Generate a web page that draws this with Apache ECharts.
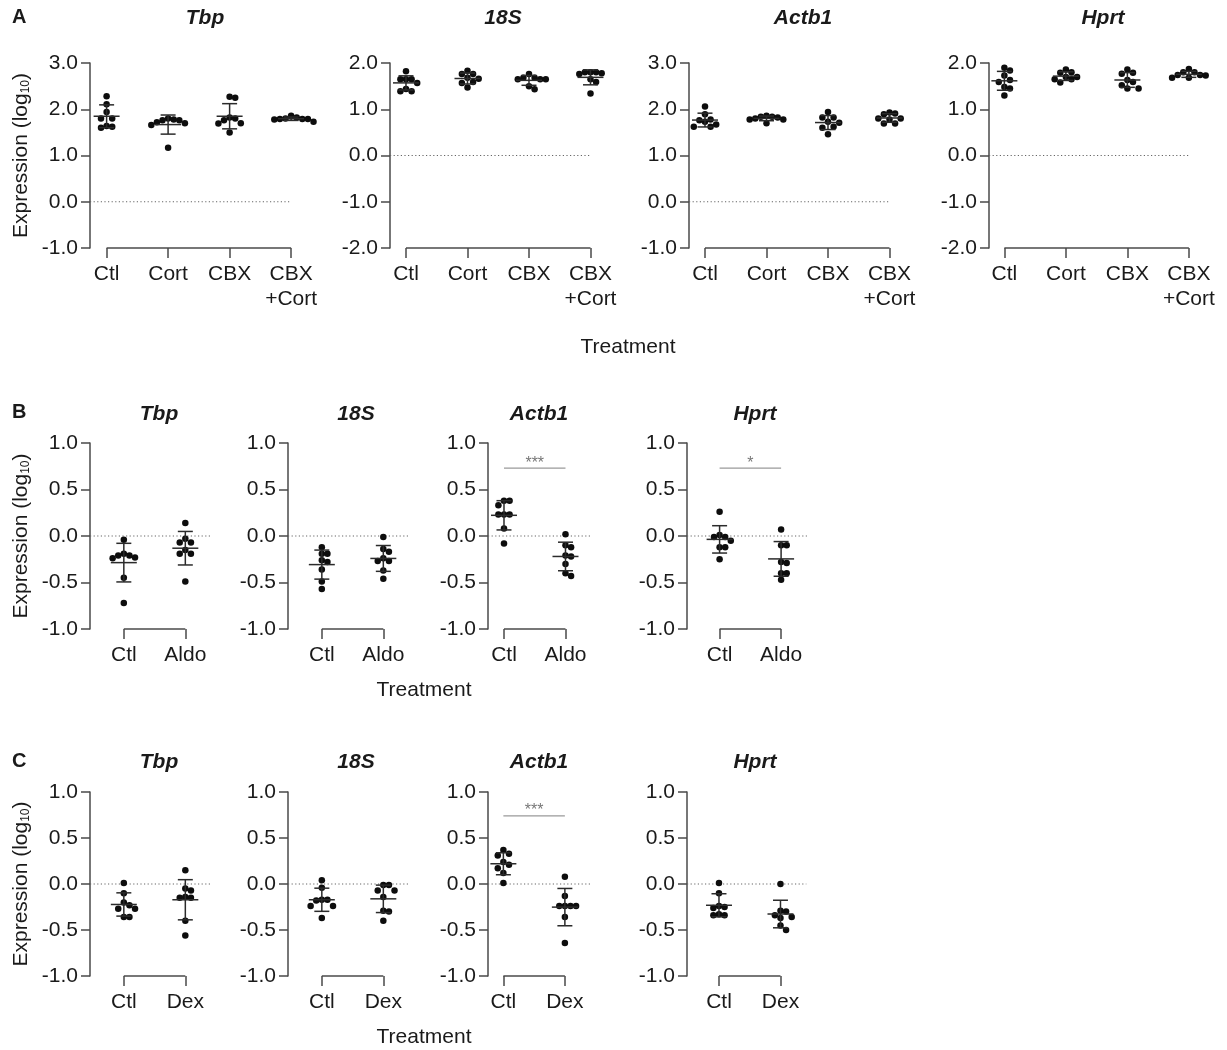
<!DOCTYPE html>
<html>
<head>
<meta charset="utf-8">
<script src="https://cdn.jsdelivr.net/npm/echarts@6/dist/echarts.min.js"></script>
<style>
  html, body { margin: 0; padding: 0; background: #fff; }
  #chart { width: 1227px; height: 1050px; }
</style>
</head>
<body>
<div id="chart"></div>
<script>
// ---- Treatment groups and genes ----
const catsA = ['Ctl', 'Cort', 'CBX', 'CBX\n+Cort'];
const catsB = ['Ctl', 'Aldo'];
const catsC = ['Ctl', 'Dex'];
const genes = ['Tbp', '18S', 'Actb1', 'Hprt'];

// ---- y-axis ranges (log10 expression) ----
const yRangeA = [[-1, 3], [-2, 2], [-1, 3], [-2, 2]];
const yRangeBC = [-1, 1];

// ---- Expression (log10), one list per treatment group ----
const aTbp = [
  [2.28, 2.11, 1.94, 1.80, 1.80, 1.64, 1.62, 1.60],
  [1.80, 1.78, 1.76, 1.76, 1.72, 1.70, 1.66, 1.17],
  [2.27, 2.25, 1.82, 1.80, 1.76, 1.70, 1.69, 1.50],
  [1.86, 1.82, 1.80, 1.79, 1.79, 1.79, 1.78, 1.73]
];
const a18S = [
  [1.82, 1.65, 1.65, 1.65, 1.57, 1.44, 1.39, 1.39],
  [1.83, 1.76, 1.76, 1.68, 1.66, 1.59, 1.57, 1.47],
  [1.76, 1.68, 1.68, 1.65, 1.65, 1.65, 1.50, 1.43],
  [1.80, 1.80, 1.80, 1.78, 1.76, 1.65, 1.59, 1.34]
];
const aActb1 = [
  [2.06, 1.89, 1.78, 1.76, 1.73, 1.67, 1.62, 1.62],
  [1.86, 1.84, 1.84, 1.82, 1.80, 1.78, 1.78, 1.70],
  [1.94, 1.82, 1.82, 1.73, 1.71, 1.62, 1.60, 1.46],
  [1.93, 1.91, 1.89, 1.80, 1.80, 1.78, 1.69, 1.69]
];
const aHprt = [
  [1.90, 1.84, 1.73, 1.63, 1.59, 1.48, 1.45, 1.30],
  [1.86, 1.80, 1.79, 1.70, 1.70, 1.65, 1.65, 1.58],
  [1.86, 1.79, 1.77, 1.63, 1.59, 1.52, 1.45, 1.45],
  [1.87, 1.80, 1.80, 1.74, 1.74, 1.73, 1.68, 1.68]
];
const bTbp = [
  [-0.04, -0.19, -0.21, -0.21, -0.23, -0.24, -0.45, -0.72],
  [0.14, -0.03, -0.07, -0.07, -0.15, -0.19, -0.19, -0.49]
];
const b18S = [
  [-0.12, -0.19, -0.19, -0.26, -0.28, -0.36, -0.49, -0.57],
  [-0.01, -0.14, -0.17, -0.24, -0.27, -0.27, -0.37, -0.46]
];
const bActb1 = [
  [0.38, 0.38, 0.33, 0.23, 0.23, 0.23, 0.08, -0.08],
  [0.02, -0.10, -0.12, -0.21, -0.22, -0.30, -0.40, -0.43]
];
const bHprt = [
  [0.26, 0.01, -0.01, -0.01, -0.05, -0.12, -0.12, -0.25],
  [0.07, -0.10, -0.10, -0.28, -0.29, -0.40, -0.40, -0.47]
];
const cTbp = [
  [0.01, -0.10, -0.20, -0.23, -0.27, -0.27, -0.36, -0.36],
  [0.15, -0.05, -0.07, -0.14, -0.15, -0.15, -0.40, -0.56]
];
const c18S = [
  [0.04, -0.04, -0.17, -0.17, -0.18, -0.24, -0.24, -0.37],
  [-0.01, -0.01, -0.07, -0.07, -0.14, -0.29, -0.30, -0.40]
];
const cActb1 = [
  [0.37, 0.33, 0.31, 0.24, 0.21, 0.17, 0.12, 0.01],
  [0.08, -0.13, -0.24, -0.24, -0.24, -0.24, -0.36, -0.64]
];
const cHprt = [
  [0.01, -0.10, -0.24, -0.25, -0.26, -0.33, -0.34, -0.34],
  [0.00, -0.29, -0.30, -0.34, -0.36, -0.37, -0.45, -0.50]
];

// ---- Significance marks (Ctl vs treatment) ----
const sigB = ['', '', '***', '*'];
const sigC = ['', '', '***', ''];

// ---------------- layout & drawing ----------------
const FONT = "'Liberation Sans', Arial, Helvetica, sans-serif";
const AX = '#4a4a4a';
const TXT = '#1a1a1a';
const SPACING = 61.5;     // px between neighbouring groups
const DOT_STEP = 5.6;     // px between swarm columns
const DOT_GAP_Y = 6.5;    // px vertical clearance inside one swarm column

const rows = [
  { letter: 'A', cats: catsA, sets: [aTbp, a18S, aActb1, aHprt],
    lefts: [90, 390, 689, 989], xMins: [-0.27, -0.26, -0.26, -0.25], xMax: 3.3,
    top: 63, height: 185, ranges: yRangeA, interval: 1, zeroEnd: 3,
    titleX: [205, 503, 803, 1103], titleY: 18, letterY: 18, treat: [628, 347],
    sig: null, sigLevel: 0 },
  { letter: 'B', cats: catsB, sets: [bTbp, b18S, bActb1, bHprt],
    lefts: [90, 288, 488, 687], xMins: [-0.55, -0.55, -0.26, -0.53], xMax: 1.42,
    top: 443, height: 186, ranges: [yRangeBC, yRangeBC, yRangeBC, yRangeBC], interval: 0.5, zeroEnd: 1.42,
    titleX: [159, 356, 539, 755], titleY: 414, letterY: 413, treat: [424, 690],
    sig: sigB, sigLevel: 0.73 },
  { letter: 'C', cats: catsC, sets: [cTbp, c18S, cActb1, cHprt],
    lefts: [90, 288, 488, 687], xMins: [-0.55, -0.55, -0.25, -0.52], xMax: 1.42,
    top: 792, height: 184, ranges: [yRangeBC, yRangeBC, yRangeBC, yRangeBC], interval: 0.5, zeroEnd: 1.42,
    titleX: [159, 356, 539, 755], titleY: 762, letterY: 762, treat: [424, 1037],
    sig: sigC, sigLevel: 0.74 }
];

// simple beeswarm: returns a column index per point
function swarm(values, pxPerUnitY) {
  const order = values.map((v, i) => i).sort((a, b) => values[b] - values[a]);
  const cols = new Array(values.length).fill(0);
  const placed = [];
  const tries = [0, 1, -1, 2, -2, 3, -3, 4, -4];
  order.forEach(i => {
    const y = values[i] * pxPerUnitY;
    for (const k of tries) {
      const ok = placed.every(p => p.k !== k || Math.abs(y - p.y) >= DOT_GAP_Y);
      if (ok) { cols[i] = k; placed.push({ k, y }); break; }
    }
  });
  return cols;
}

function meanSd(arr) {
  const n = arr.length;
  const m = arr.reduce((s, v) => s + v, 0) / n;
  const sd = Math.sqrt(arr.reduce((s, v) => s + (v - m) * (v - m), 0) / (n - 1));
  return [m, sd];
}

const grids = [], xAxes = [], yAxes = [], series = [], graphics = [];

rows.forEach((row, r) => {
  graphics.push({
    type: 'text', left: 12, top: row.letterY - 11,
    style: { text: row.letter, font: `bold 20px ${FONT}`, fill: TXT }
  });
  graphics.push({
    type: 'text', x: row.treat[0], y: row.treat[1],
    style: { text: 'Treatment', font: `21px ${FONT}`, fill: TXT, align: 'center', verticalAlign: 'middle' }
  });

  row.sets.forEach((groups, p) => {
    const idx = grids.length;
    const xMin = row.xMins[p];
    const width = (row.xMax - xMin) * SPACING;
    const [yMin, yMax] = row.ranges[p];
    const pxPerUnitY = row.height / (yMax - yMin);

    grids.push({ left: row.lefts[p], top: row.top, width: width, height: row.height, outerBoundsMode: 'none' });

    const catIdx = row.cats.map((c, i) => i);
    xAxes.push({
      type: 'value', gridIndex: idx, min: xMin, max: row.xMax, position: 'bottom',
      axisLine: { show: false, onZero: false }, splitLine: { show: false },
      axisTick: { show: true, customValues: catIdx, length: 10, lineStyle: { color: AX, width: 1.5 } },
      axisLabel: {
        show: true, customValues: catIdx, margin: 14,
        formatter: v => row.cats[Math.round(v)],
        fontFamily: FONT, fontSize: 21, lineHeight: 25, color: TXT
      }
    });

    const yAxis = {
      type: 'value', gridIndex: idx, min: yMin, max: yMax, interval: row.interval,
      axisLine: { show: true, onZero: false, lineStyle: { color: AX, width: 1.5 } },
      axisTick: { show: true, length: 9, lineStyle: { color: AX, width: 1.5 } },
      axisLabel: { formatter: v => v.toFixed(1), fontFamily: FONT, fontSize: 21, margin: 12, color: TXT },
      splitLine: { show: false }
    };
    if (p === 0) {
      yAxis.name = 'Expression (log{sub|10})';
      yAxis.nameLocation = 'middle';
      yAxis.nameRotate = 90;
      yAxis.nameGap = 58;
      yAxis.nameTextStyle = {
        fontFamily: FONT, fontSize: 21, color: TXT,
        rich: { sub: { fontFamily: FONT, fontSize: 12, color: TXT, verticalAlign: 'bottom', padding: [8, 0, 0, 0] } }
      };
    }
    yAxes.push(yAxis);

    // gene title
    graphics.push({
      type: 'text', x: row.titleX[p], y: row.titleY,
      style: { text: genes[p], font: `italic bold 21px ${FONT}`, fill: TXT, align: 'center', verticalAlign: 'middle' }
    });

    // dotted zero reference
    series.push({
      type: 'line', xAxisIndex: idx, yAxisIndex: idx, silent: true, symbol: 'none', clip: false,
      data: [[xMin, 0], [row.zeroEnd, 0]],
      lineStyle: { color: '#666', width: 1.2, type: [1.2, 2.4] }, z: 1
    });

    // x-axis bracket spanning the groups
    series.push({
      type: 'line', xAxisIndex: idx, yAxisIndex: idx, silent: true, symbol: 'none', clip: false,
      data: [[0, yMin], [row.cats.length - 1, yMin]],
      lineStyle: { color: AX, width: 1.5 }, z: 2
    });

    // individual samples
    const pts = [];
    groups.forEach((vals, g) => {
      const cols = swarm(vals, pxPerUnitY);
      vals.forEach((v, i) => pts.push([g + cols[i] * DOT_STEP / SPACING, v]));
    });
    series.push({
      type: 'scatter', xAxisIndex: idx, yAxisIndex: idx, silent: true, clip: false,
      symbol: 'circle', symbolSize: 6.5, itemStyle: { color: '#0d0d0d', opacity: 1 }, data: pts, z: 3
    });

    // mean ± SD
    const stats = groups.map((vals, g) => [g].concat(meanSd(vals)));
    series.push({
      type: 'custom', xAxisIndex: idx, yAxisIndex: idx, silent: true, clip: false, z: 4,
      data: stats,
      renderItem: (params, api) => {
        const x = api.value(0), m = api.value(1), s = api.value(2);
        const c = api.coord([x, m]);
        const t = api.coord([x, m + s]);
        const b = api.coord([x, m - s]);
        const st = { stroke: '#2b2b2b', lineWidth: 1.5, fill: null };
        return {
          type: 'group', children: [
            { type: 'line', shape: { x1: c[0], y1: t[1], x2: c[0], y2: b[1] }, style: st },
            { type: 'line', shape: { x1: c[0] - 7.5, y1: t[1], x2: c[0] + 7.5, y2: t[1] }, style: st },
            { type: 'line', shape: { x1: c[0] - 7.5, y1: b[1], x2: c[0] + 7.5, y2: b[1] }, style: st },
            { type: 'line', shape: { x1: c[0] - 13, y1: c[1], x2: c[0] + 13, y2: c[1] }, style: st }
          ]
        };
      }
    });

    // significance bar
    if (row.sig && row.sig[p]) {
      series.push({
        type: 'custom', xAxisIndex: idx, yAxisIndex: idx, silent: true, clip: false, z: 4,
        data: [[0, 1, row.sigLevel]],
        renderItem: (params, api) => {
          const a = api.coord([api.value(0), api.value(2)]);
          const b = api.coord([api.value(1), api.value(2)]);
          return {
            type: 'group', children: [
              { type: 'line', shape: { x1: a[0], y1: a[1], x2: b[0], y2: b[1] }, style: { stroke: '#9a9a9a', lineWidth: 1.2 } },
              { type: 'text', x: (a[0] + b[0]) / 2, y: a[1] + 3,
                style: { text: row.sig[p], font: `16px ${FONT}`, fill: '#777', align: 'center', verticalAlign: 'bottom' } }
            ]
          };
        }
      });
    }
  });
});

const chart = echarts.init(document.getElementById('chart'), null, { renderer: 'canvas' });
chart.setOption({
  backgroundColor: '#ffffff',
  animation: false,
  grid: grids,
  xAxis: xAxes,
  yAxis: yAxes,
  series: series,
  graphic: graphics
});
</script>
</body>
</html>
